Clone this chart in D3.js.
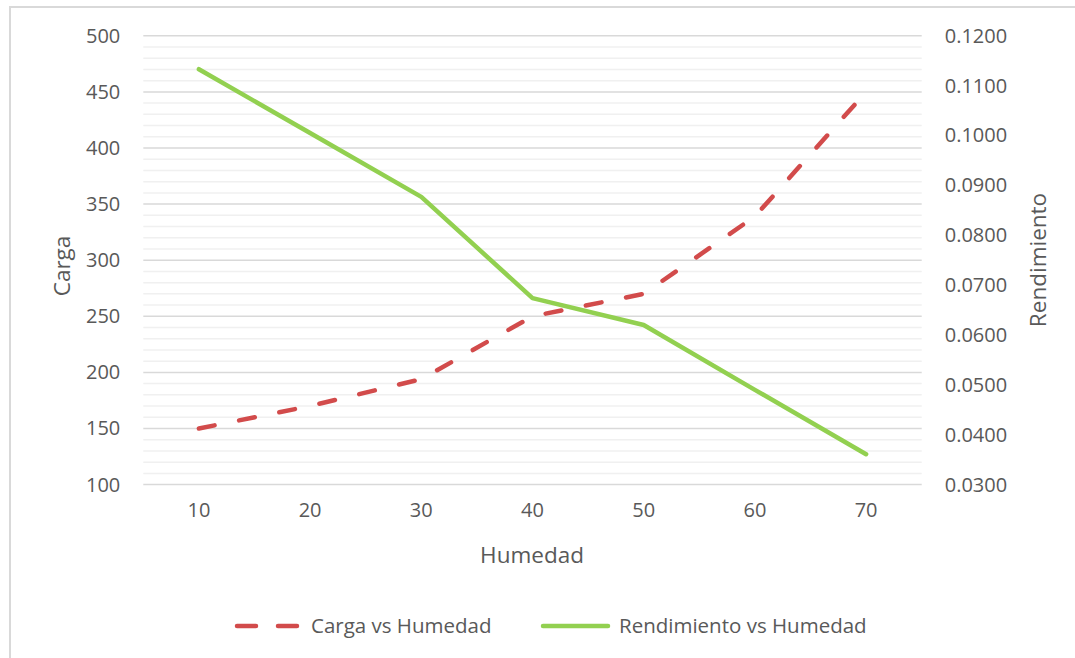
<!DOCTYPE html>
<html>
<head>
<meta charset="utf-8">
<script src="https://cdn.jsdelivr.net/npm/d3@7"></script>
<style>
  body { margin: 0; background: #fff; overflow: hidden; }
  svg { display: block; }
</style>
</head>
<body>
<svg width="1075" height="658"></svg>
<script>
// data
const humedad = [10, 20, 30, 40, 50, 60, 70];
const carga = [150, 170, 194, 250, 270, 339, 450];
const rendimiento = [0.1133, 0.1005, 0.0877, 0.0674, 0.0620, 0.0490, 0.0361];
const cargaTicks = [100, 150, 200, 250, 300, 350, 400, 450, 500];
const rendTicks = [0.03, 0.04, 0.05, 0.06, 0.07, 0.08, 0.09, 0.10, 0.11, 0.12];

const svg = d3.select('svg');
const width = +svg.attr('width');
const height = +svg.attr('height');

const font = "'Open Sans', 'Noto Sans', sans-serif";
const textColor = '#595959';
const red = '#d24b4b';
const green = '#92d050';

// outer chart border (only top/left visible in the shot)
svg.append('path')
  .attr('d', `M10,${height} V7 H${width}`)
  .attr('fill', 'none')
  .attr('stroke', '#d9d9d9')
  .attr('stroke-width', 2);

const margin = { left: 143.3, top: 35.8, right: width - 921.7, bottom: height - 484.6 };
const innerWidth = width - margin.left - margin.right;
const innerHeight = height - margin.top - margin.bottom;

const g = svg.append('g')
  .attr('transform', `translate(${margin.left}, ${margin.top})`);

//x scale (category bands, points in the middle)
const xScale = d3.scaleBand()
  .domain(humedad)
  .range([0, innerWidth]);
const xMid = d => xScale(d) + xScale.bandwidth() / 2;

const yLeft = d3.scaleLinear().domain([100, 500]).range([innerHeight, 0]);
const yRight = d3.scaleLinear().domain([0.03, 0.12]).range([innerHeight, 0]);

//minor gridlines every 10
g.append('g').selectAll('line')
  .data(d3.range(110, 500, 10).filter(v => v % 50 !== 0))
  .enter().append('line')
    .attr('x1', 0).attr('x2', innerWidth)
    .attr('y1', d => yLeft(d)).attr('y2', d => yLeft(d))
    .attr('stroke', '#f0f0f0')
    .attr('stroke-width', 1.5);

//major gridlines
g.append('g').selectAll('line')
  .data(cargaTicks)
  .enter().append('line')
    .attr('x1', 0).attr('x2', innerWidth)
    .attr('y1', d => yLeft(d)).attr('y2', d => yLeft(d))
    .attr('stroke', '#d9d9d9')
    .attr('stroke-width', 1.5);

const styleAxis = sel => {
  sel.select('.domain').remove();
  sel.attr('font-family', font).attr('font-size', 20);
  sel.selectAll('text').attr('fill', textColor);
};

//left axis
g.append('g')
  .call(d3.axisLeft(yLeft).tickValues(cargaTicks).tickSize(0).tickPadding(23))
  .call(styleAxis);

//right axis
g.append('g')
  .attr('transform', `translate(${innerWidth}, 0)`)
  .call(d3.axisRight(yRight).tickValues(rendTicks).tickFormat(d3.format('.4f')).tickSize(0).tickPadding(23))
  .call(styleAxis);

//x axis
g.append('g')
  .attr('transform', `translate(0, ${innerHeight})`)
  .call(d3.axisBottom(xScale).tickSize(0).tickPadding(18))
  .call(styleAxis);

//axis titles
const axisTitle = (x, y, angle, label) => svg.append('text')
  .attr('font-family', font)
  .attr('font-size', 22.5)
  .attr('fill', textColor)
  .attr('text-anchor', 'middle')
  .attr('transform', `translate(${x}, ${y}) rotate(${angle})`)
  .text(label);

axisTitle(70, 266, -90, 'Carga');
axisTitle(1046, 260, -90, 'Rendimiento');
axisTitle(532, 563, 0, 'Humedad');

//lines
const cargaLine = d3.line()
  .x((d, i) => xMid(humedad[i]))
  .y(d => yLeft(d));
const rendLine = d3.line()
  .x((d, i) => xMid(humedad[i]))
  .y(d => yRight(d));

g.append('path')
  .attr('d', rendLine(rendimiento))
  .attr('fill', 'none')
  .attr('stroke', green)
  .attr('stroke-width', 4.5)
  .attr('stroke-linejoin', 'round')
  .attr('stroke-linecap', 'round');

g.append('path')
  .attr('d', cargaLine(carga))
  .attr('fill', 'none')
  .attr('stroke', red)
  .attr('stroke-width', 4.5)
  .attr('stroke-dasharray', '16 25')
  .attr('stroke-linejoin', 'round')
  .attr('stroke-linecap', 'round');

//legend
const legend = svg.append('g')
  .attr('font-family', font)
  .attr('font-size', 20.5)
  .attr('fill', textColor);
legend.append('line')
  .attr('x1', 237).attr('x2', 298)
  .attr('y1', 626).attr('y2', 626)
  .attr('stroke', red)
  .attr('stroke-width', 4.5)
  .attr('stroke-dasharray', '19 22')
  .attr('stroke-linecap', 'round');
legend.append('text')
  .attr('x', 311).attr('y', 626)
  .attr('dy', '0.35em')
  .text('Carga vs Humedad');
legend.append('line')
  .attr('x1', 543).attr('x2', 608)
  .attr('y1', 626).attr('y2', 626)
  .attr('stroke', green)
  .attr('stroke-width', 4.5)
  .attr('stroke-linecap', 'round');
legend.append('text')
  .attr('x', 619).attr('y', 626)
  .attr('dy', '0.35em')
  .text('Rendimiento vs Humedad');
</script>
</body>
</html>
